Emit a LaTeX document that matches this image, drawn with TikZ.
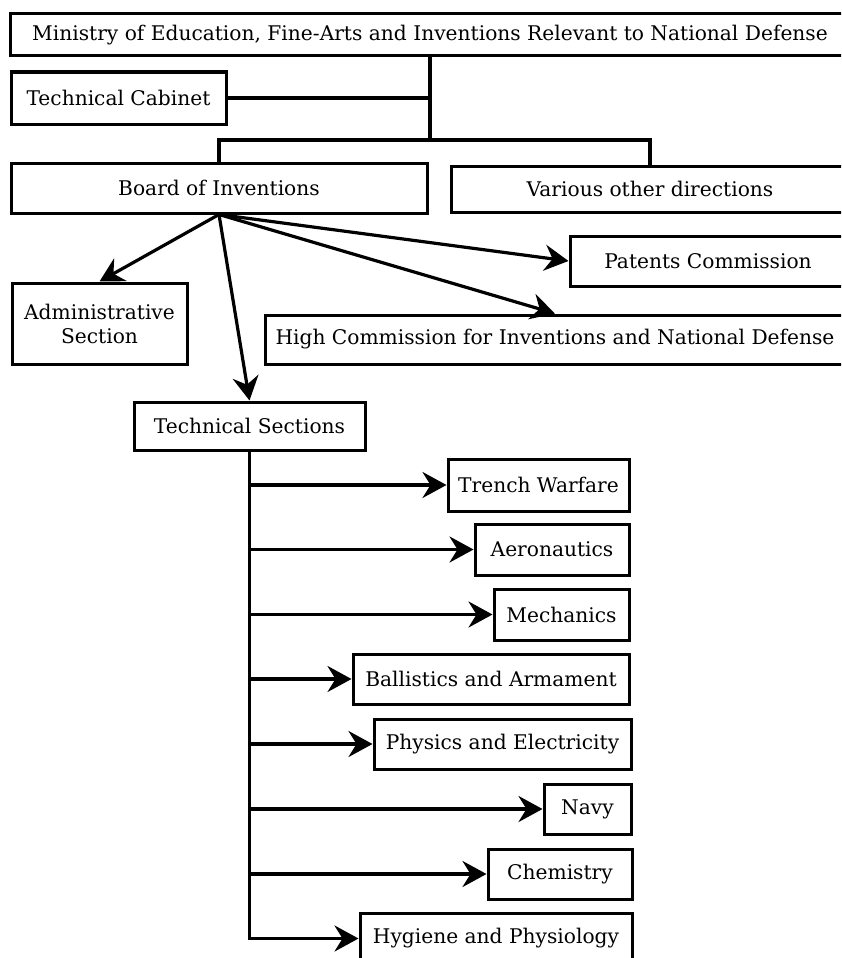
\documentclass[tikz,border=0pt]{standalone}
\usepackage{fontspec}
\setmainfont{DejaVu Serif}
\usetikzlibrary{arrows.meta}

\begin{document}
\begin{tikzpicture}[x=1pt, y=-1pt,
		font=\fontsize{20.2pt}{24pt}\selectfont,
		box/.style={draw, line width=3pt, inner sep=0pt, align=center},
		link/.style={line width=3.2pt},
		arr/.style={link, -{Stealth[length=24pt, width=26pt, inset=8pt]}}]
	\useasboundingbox (0,0) rectangle (841,958);
	\clip (0,0) rectangle (841,958);
	% top levels
	\node[box, minimum width=840pt, minimum height=42pt] (ministry) at (430,35) {Ministry of Education, Fine-Arts and Inventions Relevant to National Defense};
	\node[box, minimum width=215pt, minimum height=52pt] (cabinet) at (118.5,98) {Technical Cabinet};
	\node[box, minimum width=416pt, minimum height=50pt] (board) at (219,188) {Board of Inventions};
	\node[box, minimum width=398pt, minimum height=46pt] (various) at (650,189) {Various other directions};
	\coordinate (split) at (430,140);
	\draw[link] (ministry.south) -- (split);
	\draw[link] (cabinet.east) -- (cabinet.east -| split);
	\draw[link] (board.north) |- (split) -| (various.north);
	% under the board
	\node[box, minimum width=276pt, minimum height=50pt] (patents) at (708,261) {Patents Commission};
	\node[box, minimum width=580pt, minimum height=49pt] (highcom) at (555,339.5) {High Commission for Inventions and National Defense};
	\node[box, minimum width=175pt, minimum height=81pt] (admin) at (99.5,323.5) {Administrative\\Section};
	\node[box, minimum width=231pt, minimum height=48pt] (techsec) at (249.5,426) {Technical Sections};
	\draw[arr] (board.south) -- (admin.north);
	\draw[arr] (board.south) -- (techsec.north);
	\draw[arr] (board.south) -- (patents.west);
	\draw[arr] (board.south) -- (highcom.north);
	% technical sections
	\node[box, minimum width=181pt, minimum height=52pt] (trench) at (538.5,485) {Trench Warfare};
	\node[box, minimum width=154pt, minimum height=51pt] (aero) at (552,549.5) {Aeronautics};
	\node[box, minimum width=135pt, minimum height=51pt] (mech) at (561.5,614.5) {Mechanics};
	\node[box, minimum width=276pt, minimum height=50pt] (ballist) at (491,679) {Ballistics and Armament};
	\node[box, minimum width=257pt, minimum height=50pt] (physics) at (502.5,744) {Physics and Electricity};
	\node[box, minimum width=87pt, minimum height=50pt] (navy) at (587.5,809) {Navy};
	\node[box, minimum width=144pt, minimum height=50pt] (chem) at (560,874) {Chemistry};
	\node[box, minimum width=272pt, minimum height=51pt] (hygiene) at (496,938.5) {Hygiene and Physiology};
	\draw[arr] (techsec.south) |- (hygiene.west);
	\foreach \sec in {trench, aero, mech, ballist, physics, navy, chem}
		\draw[arr] (techsec.south |- \sec.west) -- (\sec.west);
\end{tikzpicture}
\end{document}
